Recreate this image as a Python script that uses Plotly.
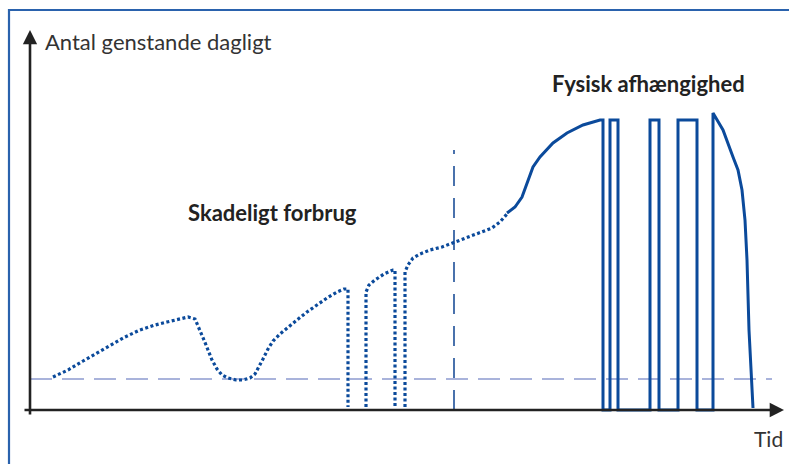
import plotly.graph_objects as go

# Values: time (t) and daily amount (a), origin at the axes crossing
dotted_t = [23, 38, 53, 67, 80, 95, 110, 125, 137, 150, 158, 165, 170, 174, 178, 182, 187, 192, 198, 206,
            213, 220, 225, 229, 233, 238, 243, 250, 257, 267, 277, 287, 297, 307, 314, 318, 318, None,
            336, 336, 339, 345, 354, 363, 365, 365, None,
            375, 375, 378, 383, 390, 400, 412, 423, 435, 450, 462, 470, 477]
dotted_a = [33, 40, 49, 57, 65, 73, 80, 85, 88, 91, 93, 91, 80, 70, 60, 50, 41, 35, 32, 30,
            30, 32, 36, 43, 51, 61, 69, 76, 82, 90, 98, 105, 112, 118, 121, 121, 3, None,
            3, 118, 125, 130, 136, 140, 140, 3, None,
            3, 138, 145, 152, 156, 160, 163, 167, 172, 177, 182, 188, 196]

solid_t = [477, 485, 492, 497, 503, 510, 523, 537, 553, 570, 573, 573,
           580, 580, 588, 588, 620, 620, 629, 629, 648, 648, 667, 667, 683, 683,
           693, 703, 708, 712, 715, 717, 719, 723]
solid_a = [197, 203, 213, 227, 243, 253, 267, 277, 285, 290, 290, 0,
           0, 290, 290, 0, 0, 290, 290, 0, 0, 290, 290, 0, 0, 297,
           280, 253, 240, 220, 190, 150, 80, 2]

threshold_a = [31]
threshold_t = [0, 742]
border_t = [424]

x_range = [-30, 759]
y_range = [-54, 410]

ink = "#0b4a9b"
fig = go.Figure()

fig.add_trace(go.Scatter(x=threshold_t, y=threshold_a * 2, mode="lines",
                         line=dict(color="#8d9bd0", width=1.5, dash="22px,10px"),
                         hoverinfo="skip", showlegend=False))
fig.add_trace(go.Scatter(x=border_t * 2, y=[0, 260], mode="lines",
                         line=dict(color="#1d4f98", width=1.6, dash="20px,12px"),
                         hoverinfo="skip", showlegend=False))
fig.add_trace(go.Scatter(x=dotted_t, y=dotted_a, mode="lines", connectgaps=False,
                         line=dict(color=ink, width=3.2, dash="3px,2.5px"),
                         hoverinfo="skip", showlegend=False))
fig.add_trace(go.Scatter(x=solid_t, y=solid_a, mode="lines",
                         line=dict(color=ink, width=3),
                         hoverinfo="skip", showlegend=False))

fig.add_annotation(x=754, y=0, ax=-7, ay=0, xref="x", yref="y", axref="x", ayref="y",
                   showarrow=True, arrowhead=2, arrowsize=1.1, arrowwidth=2.6, arrowcolor="#222222", text="")
fig.add_annotation(x=0, y=380, ax=0, ay=-6, xref="x", yref="y", axref="x", ayref="y",
                   showarrow=True, arrowhead=2, arrowsize=1.1, arrowwidth=2.6, arrowcolor="#222222", text="")

fig.add_annotation(x=13, y=369, xref="x", yref="y", text="Antal genstande dagligt", showarrow=False,
                   xanchor="left", yanchor="middle", font=dict(family="Lato", size=22, color="#333333"))
fig.add_annotation(x=755, y=-28, xref="x", yref="y", text="Tid", showarrow=False,
                   xanchor="right", yanchor="middle", font=dict(family="Lato", size=21, color="#333333"))
fig.add_annotation(x=242, y=198, xref="x", yref="y", text="<b>Skadeligt forbrug</b>", showarrow=False,
                   xanchor="center", yanchor="middle", font=dict(family="Lato", size=22, color="#222222"))
fig.add_annotation(x=618, y=327, xref="x", yref="y", text="<b>Fysisk afhængighed</b>", showarrow=False,
                   xanchor="center", yanchor="middle", font=dict(family="Lato", size=22, color="#222222"))

fig.add_shape(type="rect", xref="paper", yref="paper", x0=9 / 789, y0=-0.1, x1=1.1, y1=1 - 10 / 464,
              line=dict(color="#2a62ad", width=2.2))

fig.update_layout(
    width=789, height=464, margin=dict(l=0, r=0, t=0, b=0),
    paper_bgcolor="white", plot_bgcolor="white",
    xaxis=dict(range=x_range, visible=False, fixedrange=True),
    yaxis=dict(range=y_range, visible=False, fixedrange=True),
)
fig.write_html("out.html", config={"displayModeBar": False, "staticPlot": True},
               post_script="document.body.style.margin='0';document.body.style.overflow='hidden';")
